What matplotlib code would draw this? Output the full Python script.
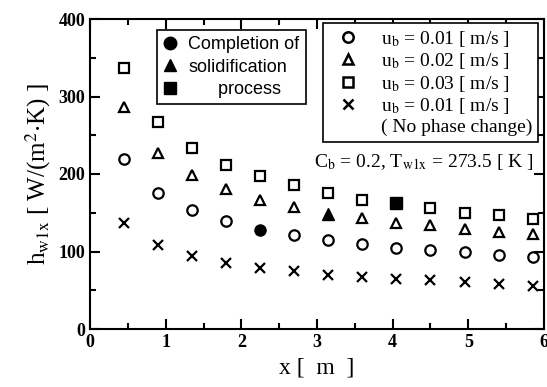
import numpy as np
import matplotlib
matplotlib.use("Agg")
import matplotlib.pyplot as plt
from matplotlib.lines import Line2D
from matplotlib.ticker import MultipleLocator

plt.rcParams['font.family'] = ['Liberation Serif', 'DejaVu Serif']
plt.rcParams['mathtext.fontset'] = 'stix'

# data
x = [0.45, 0.9, 1.35, 1.8, 2.25, 2.7, 3.15, 3.6, 4.05, 4.5, 4.95, 5.4, 5.85]
h_u001 = [220, 176, 153, 139, 128, 121, 115, 110, 105, 102, 99, 96, 93]
h_u002 = [286, 227, 199, 181, 167, 157, 149, 143, 137, 134, 129, 125, 122]
h_u003 = [337, 267, 233, 211, 197, 186, 175, 167, 162, 156, 150, 147, 142]
h_nopc = [137, 108, 94, 85, 79, 75, 70, 67, 65, 63, 61, 58, 56]
# index of the point where solidification completes
done_u001 = 4
done_u002 = 6
done_u003 = 8

fig = plt.figure(figsize=(5.47, 3.87), dpi=100)
ax = fig.add_axes([90/547, 1 - 329/387, 454/547, 310/387])

ms = 7.5
series = [(h_u001, 'o', done_u001), (h_u002, '^', done_u002), (h_u003, 's', done_u003)]
for h, mk, idone in series:
    xs = np.array(x)
    hs = np.array(h)
    mask = np.arange(len(x)) != idone
    ax.plot(xs[mask], hs[mask], linestyle='none', marker=mk, ms=ms,
            mfc='white', mec='black', mew=1.6)
    ax.plot(xs[idone], hs[idone], linestyle='none', marker=mk, ms=ms + 0.5,
            mfc='black', mec='black')
ax.plot(x, h_nopc, linestyle='none', marker='x', ms=ms, mec='black', mew=1.6)

ax.set_xlim(0, 6)
ax.set_ylim(0, 400)
ax.xaxis.set_major_locator(MultipleLocator(1))
ax.xaxis.set_minor_locator(MultipleLocator(0.5))
ax.yaxis.set_major_locator(MultipleLocator(100))
ax.yaxis.set_minor_locator(MultipleLocator(50))
ax.tick_params(which='both', direction='in', top=True, right=True, width=1.5)
ax.tick_params(which='major', length=7, labelsize=13)
ax.tick_params(which='minor', length=4)
for lbl in ax.get_xticklabels() + ax.get_yticklabels():
    lbl.set_fontweight('bold')
for sp in ax.spines.values():
    sp.set_linewidth(1.5)

ax.set_xlabel('x [  m  ]', fontsize=17, labelpad=5)
ax.set_ylabel(r'h$_{\mathrm{w1x}}$ [ W/(m$^2$$\cdot$K) ]', fontsize=18, labelpad=4)

# legend 1: completion of solidification
h1 = [Line2D([], [], linestyle='none', marker='o', ms=9, mfc='black', mec='black'),
      Line2D([], [], linestyle='none', marker='^', ms=9, mfc='black', mec='black'),
      Line2D([], [], linestyle='none', marker='s', ms=9, mfc='black', mec='black')]
leg1 = ax.legend(h1, ['Completion of', 'solidification', '      process'],
                 loc='upper left', bbox_to_anchor=(0.147, 0.965),
                 prop={'family': 'Liberation Sans', 'size': 13},
                 frameon=True, fancybox=False, edgecolor='black', framealpha=1,
                 handlelength=0.8, handletextpad=0.6, labelspacing=0.3,
                 borderpad=0.35, borderaxespad=0)
leg1.get_frame().set_linewidth(1.2)
ax.add_artist(leg1)

# legend 2: velocities
h2 = [Line2D([], [], linestyle='none', marker='o', ms=7.5, mfc='white', mec='black', mew=1.8),
      Line2D([], [], linestyle='none', marker='^', ms=7.5, mfc='white', mec='black', mew=1.8),
      Line2D([], [], linestyle='none', marker='s', ms=7.5, mfc='white', mec='black', mew=1.8),
      Line2D([], [], linestyle='none', marker='x', ms=7.5, mec='black', mew=1.8),
      Line2D([], [], linestyle='none')]
labels2 = [r'u$_{\mathrm{b}}$ = 0.01 [ m/s ]', r'u$_{\mathrm{b}}$ = 0.02 [ m/s ]',
           r'u$_{\mathrm{b}}$ = 0.03 [ m/s ]', r'u$_{\mathrm{b}}$ = 0.01 [ m/s ]',
           '( No phase change)']
leg2 = ax.legend(h2, labels2, loc='upper left', bbox_to_anchor=(0.513, 0.987),
                 fontsize=14, frameon=True, fancybox=False, edgecolor='black',
                 framealpha=1, handlelength=2.0, handletextpad=0.7,
                 labelspacing=0.12, borderpad=0.3, borderaxespad=0)
leg2.get_frame().set_linewidth(1.2)

ax.text(0.735, 0.54, r'C$_{\mathrm{b}}$ = 0.2, T$_{\mathrm{w1x}}$ = 273.5 [ K ]',
        transform=ax.transAxes, ha='center', va='center', fontsize=14)

fig.savefig('out.png', dpi=100)
